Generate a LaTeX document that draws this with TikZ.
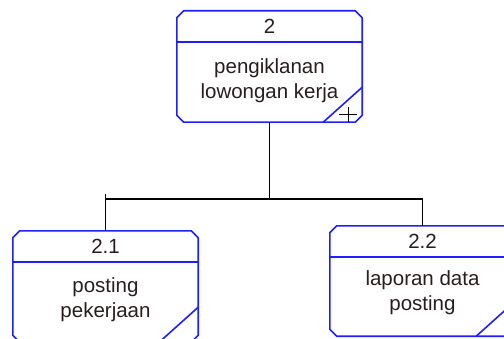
\documentclass[tikz,border=0pt]{standalone}
\usepackage{fontspec}
\setmainfont{Liberation Sans}
\usetikzlibrary{positioning}
\definecolor{procblue}{RGB}{30,30,255}
\definecolor{proctext}{RGB}{40,30,30}
\tikzset{
  proc/.style = {rectangle, minimum width=185pt, minimum height=111pt, inner sep=0pt},% kotak proses
  procnum/.style = {text=proctext, font=\fontsize{20.5}{26}\selectfont, inner sep=0pt},
  proctxt/.style = {text=proctext, align=center, font=\fontsize{20.5}{25}\selectfont, inner sep=0pt},
  procline/.style = {draw=procblue, line width=1.6pt, line join=round},
  link/.style = {draw=black, line width=1.6pt}
}
\begin{document}
\begin{tikzpicture}[x=1pt,y=1pt]
        \useasboundingbox (0,0) rectangle (504,338);

        \node [proc](P2) at (269.5,271.5){};
        \node [proc](P21) at (105.5,51.5){};
        \node [proc, minimum height=110pt](P22) at (422.5,57){};

        \node [procnum] (P2n) at ([yshift=-16pt]P2.north){2};
        \node [procnum] (P21n) at ([yshift=-16pt]P21.north){2.1};
        \node [procnum] (P22n) at ([yshift=-16pt]P22.north){2.2};

        \node [proctxt] (P2t) at ([yshift=-70pt]P2.north){pengiklanan\\lowongan kerja};
        \node [proctxt] (P21t) at ([yshift=-69pt]P21.north){posting\\pekerjaan};
        \node [proctxt] (P22t) at ([yshift=-67pt]P22.north){laporan data\\posting};

        % garis kotak, pemisah dan sudut
        \foreach \p in {P2,P21,P22}{
          \draw [procline] ([yshift=-7pt]\p.north west) -- ([xshift=7pt]\p.north west)
            -- ([xshift=-7pt]\p.north east) -- ([yshift=-7pt]\p.north east)
            -- ([yshift=7pt]\p.south east) -- ([xshift=-7pt]\p.south east)
            -- ([xshift=7pt]\p.south west) -- ([yshift=7pt]\p.south west) -- cycle;
          \draw [procline] ([yshift=-31pt]\p.north west) -- ([yshift=-31pt]\p.north east);
          \draw [procline] ([yshift=35pt]\p.south east) -- ([xshift=-39pt]\p.south east);
        }
        \draw [line width=1pt] ([xshift=-23pt,yshift=8pt]P2.south east) -- ++(18,0);
        \draw [line width=1pt] ([xshift=-14pt]P2.south east) -- ++(0,15);

        \coordinate [below=77pt of P2.south] (J);
        \draw [link] (P2.south) -- (J);
        \draw [link] (J) -| (P21.north);
        \draw [link] (J) -| (P22.north);
        \draw [link] (P21.north |- J) -- ++(0,5);

        \end{tikzpicture}
\end{document}
